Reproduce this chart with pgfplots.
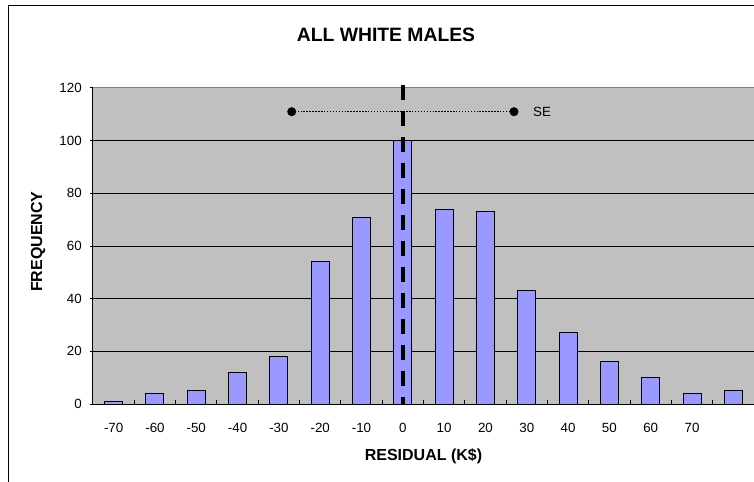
\documentclass[border=0pt]{standalone}
\usepackage{pgfplots}
\pgfplotsset{compat=1.18}
\usepackage{fontspec}
\setmainfont{Liberation Sans}
\definecolor{plotbg}{HTML}{C0C0C0}
\definecolor{plotborder}{HTML}{808080}
\definecolor{barfill}{HTML}{9999FF}
\begin{document}
\begin{tikzpicture}
\path[use as bounding box] (-69.75pt,-58.5pt) rectangle (495.75pt,303pt);
\draw[black, line width=0.75pt] (-63pt,-70pt) -- (-63pt,298.9pt) -- (510pt,298.9pt);
\node[font=\fontsize{14.5}{17}\selectfont\bfseries] at (219.75pt,276.75pt) {ALL WHITE MALES};
\begin{axis}[
  at={(0,0)}, anchor=south west,
  scale only axis,
  width=495.75pt, height=237pt,
  xmin=-0.5, xmax=15.5,
  ymin=0, ymax=120,
  clip=false,
  axis x line*=bottom, axis y line*=left,
  axis line style={black, line width=0.75pt},
  axis background/.style={fill=plotbg, draw=plotborder, line width=0.75pt},
  ytick={0,20,...,100},
  extra y ticks={120},
  extra y tick style={grid=none},
  ymajorgrids,
  major grid style={black, line width=0.6pt},
  xtick={0,...,14},
  xticklabels={-70,-60,-50,-40,-30,-20,-10,0,10,20,30,40,50,60,70},
  minor xtick={0.5,1.5,...,14.5},
  tick align=outside,
  major tick length=2.25pt,
  minor tick length=3pt,
  major x tick style={draw=none},
  minor x tick style={black, line width=0.75pt, yshift=3pt},
  major y tick style={black, line width=0.75pt},
  tick label style={font=\fontsize{10}{12}\selectfont},
  /pgf/number format/assume math mode=true,
  yticklabel style={anchor=east, inner sep=0pt, xshift=-6pt},
  xticklabel style={anchor=north, inner sep=0pt, yshift=-12pt},
  xlabel={RESIDUAL (K\$)},
  ylabel={FREQUENCY},
  label style={font=\fontsize{12}{14}\selectfont\bfseries},
  xlabel style={at={(axis description cs:0.5,-0.1646)}, anchor=center},
  ylabel style={at={(axis description cs:-0.0832,0.514)}, anchor=center, rotate=0},
]
\addplot[ybar, bar width=13.5pt, bar shift=0pt, fill=barfill, draw=black, line width=0.75pt]
  coordinates {(0,1) (1,4) (2,5) (3,12) (4,18) (5,54) (6,71) (7,100) (8,74) (9,73) (10,43) (11,27) (12,16) (13,10) (14,4) (15,5)};
\addplot[black, line width=2.6pt, dash pattern=on 11.25pt off 8.25pt]
  coordinates {(7,121.2) (7,0)};
\addplot[black, line width=1.1pt, dash pattern=on 1.1pt off 1.1pt, mark=*, mark size=2.8pt, mark options={solid, fill=black}]
  coordinates {(4.31,111) (9.69,111)};
\node[anchor=west, inner sep=0pt, xshift=14.25pt, font=\fontsize{10}{12}\selectfont] at (axis cs:9.69,111) {SE};
\end{axis}
\end{tikzpicture}
\end{document}
